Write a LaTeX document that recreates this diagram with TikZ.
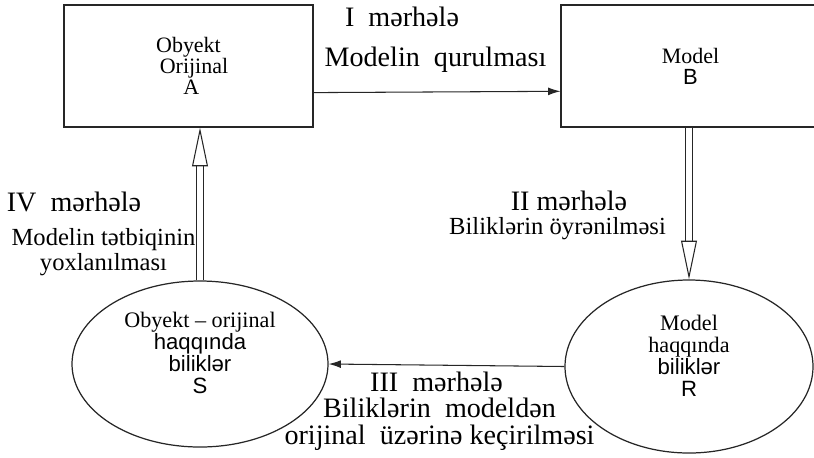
\documentclass[tikz,border=0pt]{standalone}
\usepackage{fontspec}
\setmainfont{Liberation Serif}
\setsansfont{Liberation Sans}
\usetikzlibrary{arrows.meta,shapes.geometric}

\tikzset{
  box/.style={draw=black!85, line width=0.7pt, rectangle, minimum width=#1,
    minimum height=2.44cm, align=center, font=\fontsize{12.5}{12}\selectfont},
  oval/.style={draw=black!85, line width=0.7pt, ellipse, inner sep=0pt,
    align=center, font=\fontsize{12.6}{12.5}\selectfont},
  stage/.style={align=center, font=\fontsize{16}{15.4}\selectfont},
  task/.style={align=center, font=\fontsize{14}{14.2}\selectfont},
  plainarrow/.style={draw=black!85, line width=0.6pt, -{Latex[length=7pt,width=4.5pt]}},
  hollowarrow/.style={draw=black!85, line width=0.6pt, double, double distance=3.1pt,
    -{Triangle[open,length=22pt,width=9pt]}}
}

\begin{document}
\begin{tikzpicture}

\useasboundingbox (0,0) rectangle (16.28,-9.14);

\node[box=4.98cm] (A) at (3.77,-1.32) {Obyekt\\\ \ Orijinal\\\ A};
\node[box=5.18cm] (B) at (13.81,-1.32) {Model\\\sffamily B};
\node[oval, minimum width=5.12cm, minimum height=3.32cm] (S) at (4.0,-7.28)
  {Obyekt -- orijinal\\\sffamily haqqında\\\sffamily biliklər\\\sffamily S\\\mbox{}};
\node[oval, minimum width=4.96cm, minimum height=3.46cm] (R) at (13.78,-7.33)
  {Model\\haqqında\\\sffamily biliklər\\\sffamily R\\\mbox{}};

\node[stage] (st1) at (8.04,-0.34) {I\ \ mərhələ};
\node[stage] (tk1) at (8.71,-1.20) {Modelin\ \ qurulması};
\node[stage] (st2) at (11.38,-4.01) {II mərhələ};
\node[task] (tk2) at (11.15,-4.58) {Biliklərin öyrənilməsi};
\node[stage] (st3) at (8.73,-7.64) {III\ \ mərhələ};
\node[stage] (tk3) at (8.79,-8.49) {Biliklərin\ \ modeldən\\orijinal\ \ üzərinə keçirilməsi};
\node[stage] (st4) at (1.48,-4.04) {IV\ \ mərhələ};
\node[task] (tk4) at (2.07,-5.05) {Modelin tətbiqinin\\yoxlanılması};

\draw[plainarrow] (A.-12) -- (B.191);
\draw[hollowarrow] (R.north |- B.south) -- (R.north);
\draw[plainarrow] (R.west) -- (S.east);
\draw[hollowarrow] (S.north) -- (S.north |- A.south);

\end{tikzpicture}
\end{document}
